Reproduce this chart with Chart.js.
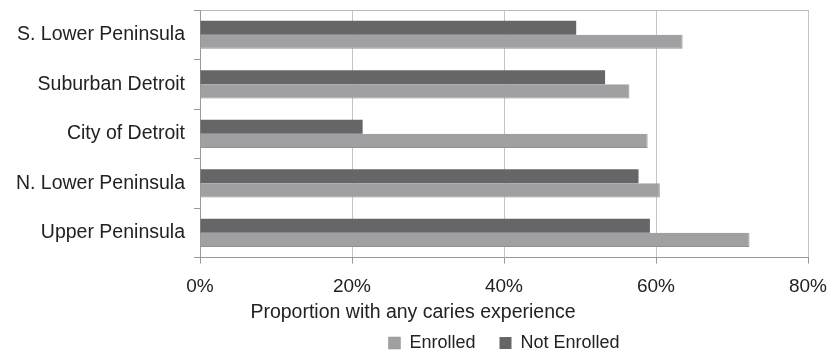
<!DOCTYPE html>
<html>
<head>
<meta charset="utf-8">
<script src="https://cdn.jsdelivr.net/npm/chart.js@4/dist/chart.umd.min.js"></script>
<style>
  html, body { margin: 0; padding: 0; background: #fff; }
  #wrap { width: 830px; height: 351px; }
</style>
</head>
<body>
<div id="wrap"><canvas id="c" width="830" height="351"></canvas></div>
<script>
// Caries experience by region, Medicaid enrolment status
const regions = ['S. Lower Peninsula', 'Suburban Detroit', 'City of Detroit', 'N. Lower Peninsula', 'Upper Peninsula'];
const notEnrolled = [49.5, 53.3, 21.4, 57.7, 59.2];
const enrolled = [63.5, 56.5, 58.9, 60.5, 72.3];
const xTicks = [0, 20, 40, 60, 80];
const axisTitle = 'Proportion with any caries experience';

const FONT = "'Liberation Sans', Arial, sans-serif";
Chart.defaults.font.family = FONT;
Chart.defaults.color = '#222';

new Chart(document.getElementById('c'), {
  type: 'bar',
  data: {
    labels: regions,
    datasets: [
      { label: 'Not Enrolled', data: notEnrolled, backgroundColor: '#666668', borderWidth: 0 },
      { label: 'Enrolled', data: enrolled, backgroundColor: '#a0a0a3', borderColor: '#919194', borderWidth: { right: 1, bottom: 1 } }
    ]
  },
  options: {
    indexAxis: 'y',
    responsive: false,
    animation: false,
    layout: { padding: { top: 10, right: 4, left: 0, bottom: 0 } },
    datasets: { bar: { categoryPercentage: 0.57, barPercentage: 1.0 } },
    scales: {
      x: {
        min: 0, max: 80,
        afterBuildTicks: (s) => { s.ticks = xTicks.map(v => ({ value: v })); },
        afterFit: (s) => { s.height = 38; s.paddingLeft = 0; s.paddingRight = 22; },
        ticks: { callback: (v) => v + '%', font: { size: 19 }, padding: 12, color: '#222' },
        grid: { color: '#c4c4c4', lineWidth: 1, tickLength: 6, tickColor: '#999' },
        border: { color: '#999' }
      },
      xTop: {
        position: 'top',
        axis: 'x',
        min: 0, max: 80,
        afterFit: (s) => { s.height = 0; s.paddingLeft = 0; s.paddingRight = 0; },
        ticks: { display: false },
        grid: { display: false, drawTicks: false },
        border: { display: true, color: '#bbb' }
      },
      y: {
        afterFit: (s) => { s.width = 200; s.paddingTop = 0; s.paddingBottom = 0; },
        ticks: { font: { size: 19.5 }, padding: 9, color: '#222' },
        grid: { drawOnChartArea: false, tickLength: 6, color: '#999' },
        border: { color: '#999' }
      }
    },
    plugins: {
      title: {
        display: true,
        text: axisTitle,
        position: 'bottom',
        weight: 500,
        font: { size: 19.5, weight: 'normal' },
        color: '#222',
        padding: { top: 5, bottom: -14 }
      },
      legend: {
        position: 'bottom',
        fullSize: false,
        reverse: true,
        maxHeight: 41,
        labels: { boxWidth: 12, boxHeight: 12, font: { size: 18 }, color: '#222', padding: 24 }
      },
      tooltip: { enabled: false }
    }
  }
});
</script>
</body>
</html>
